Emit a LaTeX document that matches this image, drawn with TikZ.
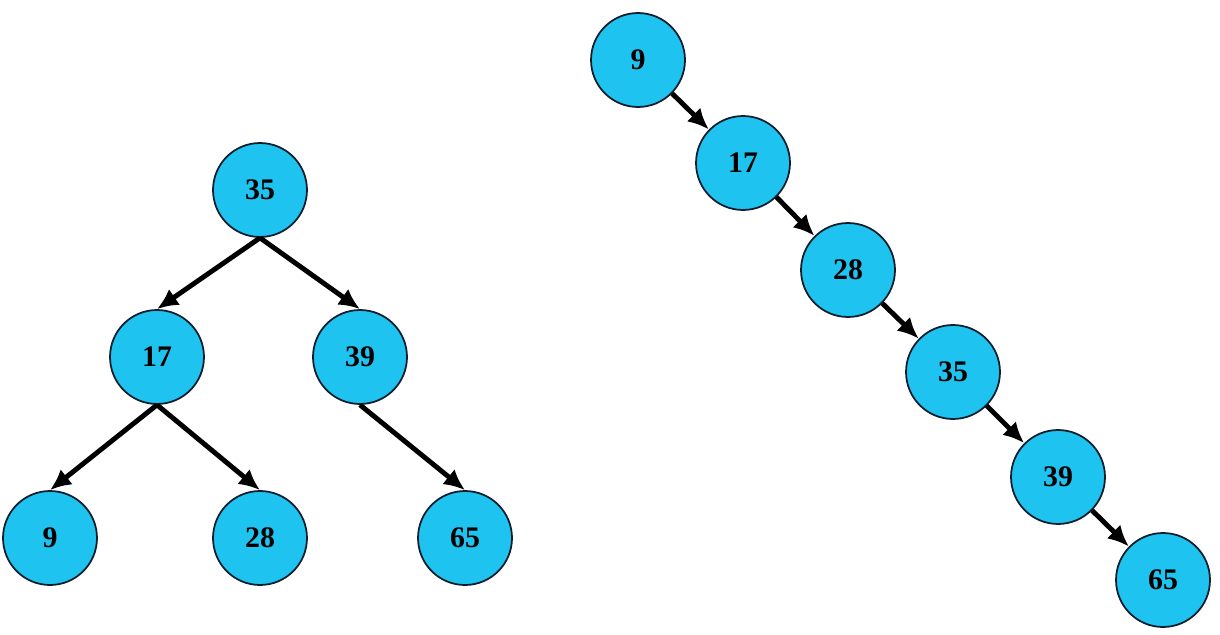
\documentclass[tikz,border=0pt]{standalone}
\usepackage{fontspec}
\setmainfont{Liberation Serif}
\usetikzlibrary{arrows.meta}
\definecolor{keyfill}{RGB}{30,195,240}
\definecolor{keyline}{RGB}{15,30,45}
\tikzset{
  key/.style={circle, draw=keyline, line width=1pt, fill=keyfill,
    minimum size=1.88cm, inner sep=0pt,
    font=\fontsize{17}{19}\selectfont\bfseries},
  link/.style={line width=2.8pt, -{Latex[length=12pt,width=11pt]}}
}
\begin{document}
\begin{tikzpicture}[x=0.02cm,y=-0.02cm]
      \useasboundingbox (0,0) rectangle (1220,635);
      % balanced tree
      \node[key] (t35) at (260,190) {35};
      \node[key] (t17) at (157,357) {17};
      \node[key] (t39) at (360,357) {39};
      \node[key] (t9) at (50,538) {9};
      \node[key] (t28) at (260,538) {28};
      \node[key] (t65) at (465,538) {65};
      \begin{scope}[link]
        \draw (t35.south) to (t17.north);
        \draw (t35.south) to (t39.north);
        \draw (t17.south) to (t9.north);
        \draw (t17.south) to (t28.north);
        \draw (t39.south) to (t65.north);
      \end{scope}
      % degenerate chain
      \node[key] (c9) at (638,60) {9};
      \node[key] (c17) at (743,163) {17};
      \node[key] (c28) at (848,270) {28};
      \node[key] (c35) at (953,372) {35};
      \node[key] (c39) at (1058,477) {39};
      \node[key] (c65) at (1163,580) {65};
      \begin{scope}[link]
        \draw (c9) to (c17);
        \draw (c17) to (c28);
        \draw (c28) to (c35);
        \draw (c35) to (c39);
        \draw (c39) to (c65);
      \end{scope}
    \end{tikzpicture}
\end{document}
